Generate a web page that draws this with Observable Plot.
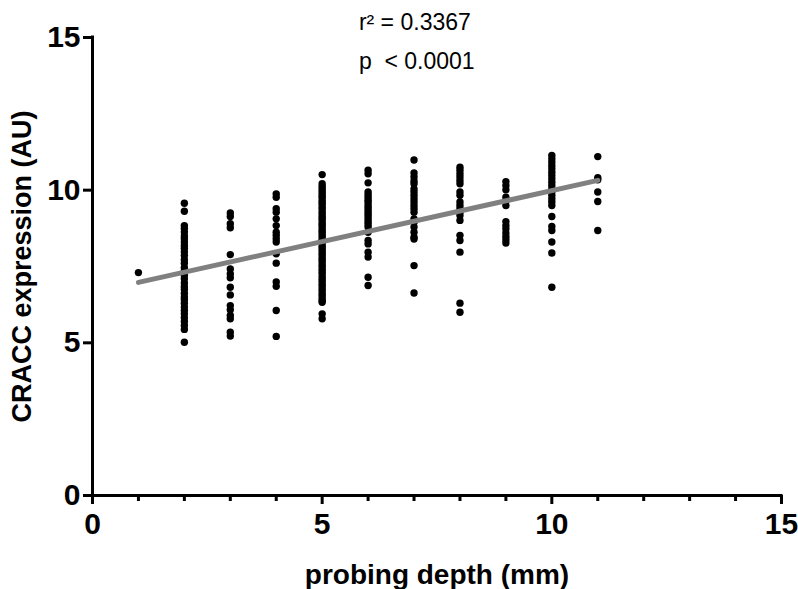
<!DOCTYPE html>
<html><head><meta charset="utf-8">
<script src="https://cdn.jsdelivr.net/npm/d3@7"></script>
<script src="https://cdn.jsdelivr.net/npm/@observablehq/plot@0.6"></script>
<style>body{margin:0;background:#fff}</style>
</head><body><div id="chart"></div>
<script>
// CRACC expression (AU) read per probing depth (mm)
const depth1 = [7.3];
const depth2 = [9.57, 9.31, 8.84, 8.75, 8.63, 8.5, 8.41, 8.3, 8.19, 8.1, 7.98, 7.86, 7.72, 7.61, 7.46, 7.35, 7.21, 7.1, 6.96, 6.84, 6.75, 6.62, 6.5, 6.41, 6.3, 6.17, 6.06, 5.95, 5.82, 5.7, 5.57, 5.44, 5.02];
const depth3 = [9.25, 9.14, 8.9, 8.77, 7.89, 7.42, 7.26, 7.13, 6.82, 6.57, 6.22, 6.08, 5.9, 5.79, 5.35, 5.22];
const depth4 = [9.88, 9.77, 9.39, 9.28, 9.06, 8.84, 8.62, 8.52, 8.41, 8.3, 7.92, 7.61, 6.99, 6.85, 6.06, 5.21];
const depth5 = [10.51, 10.21, 10.12, 10.05, 9.97, 9.9, 9.82, 9.76, 9.67, 9.6, 9.53, 9.44, 9.38, 9.29, 9.22, 9.14, 9.07, 9.0, 8.91, 8.85, 8.77, 8.69, 8.62, 8.54, 8.47, 8.39, 8.33, 8.25, 8.16, 8.1, 8.02, 7.94, 7.88, 7.79, 7.72, 7.65, 7.56, 7.49, 7.4, 7.33, 7.26, 7.17, 7.09, 7.02, 6.93, 6.86, 6.77, 6.7, 6.61, 6.54, 6.45, 6.38, 6.33, 5.95, 5.79];
const depth6 = [10.65, 10.54, 10.24, 9.94, 9.85, 9.77, 9.68, 9.61, 9.52, 9.44, 9.36, 9.28, 9.2, 9.12, 9.03, 8.95, 8.87, 8.79, 8.62, 8.35, 8.24, 7.97, 7.81, 7.15, 6.88];
const depth7 = [10.99, 10.56, 10.43, 10.3, 10.21, 10.04, 9.94, 9.83, 9.72, 9.61, 9.5, 9.39, 9.28, 9.06, 8.95, 8.79, 8.62, 8.46, 8.4, 7.53, 6.63];
const depth8 = [10.75, 10.65, 10.54, 10.43, 10.32, 10.21, 9.94, 9.83, 9.61, 9.5, 9.39, 9.28, 9.17, 9.01, 8.52, 8.35, 7.97, 6.3, 6.0];
const depth9 = [10.28, 10.15, 10.01, 9.77, 9.65, 9.5, 8.97, 8.84, 8.73, 8.6, 8.48, 8.38, 8.27];
const depth10 = [11.14, 11.03, 10.92, 10.81, 10.7, 10.59, 10.48, 10.37, 10.26, 10.15, 10.04, 9.94, 9.83, 9.72, 9.61, 9.5, 9.14, 8.81, 8.68, 8.3, 7.94, 6.82];
const depth11 = [11.1, 10.41, 10.34, 9.94, 9.63, 8.68];

// fitted regression line end points
const fitX = [1, 11];
const fitY = [6.98, 10.32];

const xMajorTicks = [0, 5, 10, 15];
const xMinorTicks = [1, 2, 3, 4, 6, 7, 8, 9, 11, 12, 13, 14];
const yTicks = [0, 5, 10, 15];

const statLines = ["r\u00b2 = 0.3367", "p \u00a0< 0.0001"];
const statX = [5.8, 5.8];
const statY = [15.5, 14.2];

const groups = [depth1, depth2, depth3, depth4, depth5, depth6, depth7, depth8, depth9, depth10, depth11];
const points = groups.flatMap((vals, i) => vals.map(v => ({depth: i + 1, value: v})));
const fit = fitX.map((x, i) => ({x, y: fitY[i]}));
const stats = statLines.map((t, i) => ({t, x: statX[i], y: statY[i]}));

const chart = Plot.plot({
  width: 798,
  height: 589,
  marginLeft: 92,
  marginRight: 17,
  marginTop: 37,
  marginBottom: 94,
  x: {domain: [0, 15]},
  y: {domain: [0, 15]},
  style: {fontFamily: "'Liberation Sans', Arial, sans-serif", background: "white", color: "black"},
  marks: [
    Plot.axisX({ticks: xMinorTicks, tickSize: 6, strokeWidth: 3, tickFormat: () => "", label: null}),
    Plot.axisX({ticks: xMajorTicks, tickSize: 9, tickPadding: 8, strokeWidth: 3, fontSize: 30, fontWeight: "bold", label: null}),
    Plot.axisY({ticks: yTicks, tickSize: 9, tickPadding: 3, strokeWidth: 3, fontSize: 30, fontWeight: "bold", label: null}),
    Plot.ruleY([0], {strokeWidth: 3, strokeLinecap: "square"}),
    Plot.ruleX([0], {strokeWidth: 3, strokeLinecap: "square"}),
    Plot.dot(points, {x: "depth", y: "value", r: 3.7, fill: "black", stroke: "none"}),
    Plot.line(fit, {x: "x", y: "y", stroke: "#808080", strokeWidth: 5}),
    Plot.text(stats, {x: "x", y: "y", text: "t", textAnchor: "start", lineAnchor: "middle", fontSize: 23, fill: "black"}),
    Plot.text(["probing depth (mm)"], {frameAnchor: "bottom", dy: 80, textAnchor: "middle", lineAnchor: "middle", fontSize: 28, fontWeight: "bold"}),
    Plot.text(["CRACC expression (AU)"], {frameAnchor: "left", dx: -70, rotate: -90, textAnchor: "middle", lineAnchor: "middle", fontSize: 27, fontWeight: "bold"})
  ]
});
document.getElementById("chart").appendChild(chart);
</script>
</body></html>
